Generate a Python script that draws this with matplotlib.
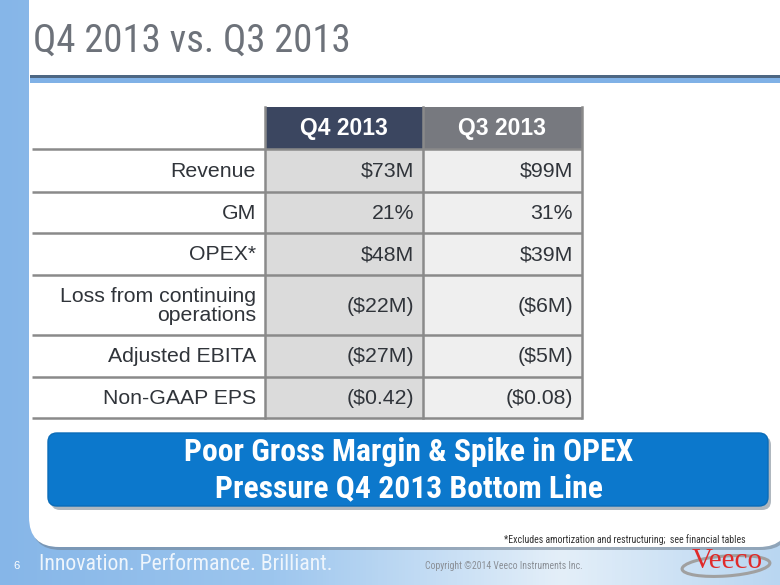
import matplotlib
matplotlib.use("Agg")
import matplotlib.pyplot as plt
import numpy as np
from matplotlib.colors import LinearSegmentedColormap
from matplotlib.patches import FancyBboxPatch, Rectangle, Ellipse

# table data
col_heads = ["Q4 2013", "Q3 2013"]
row_labels = ["Revenue", "GM", "OPEX*", "Loss from continuing\noperations",
              "Adjusted EBITA", "Non-GAAP EPS"]
q4_vals = ["$73M", "21%", "$48M", "($22M)", "($27M)", "($0.42)"]
q3_vals = ["$99M", "31%", "$39M", "($6M)", "($5M)", "($0.08)"]

title = "Q4 2013 vs. Q3 2013"
banner = "Poor Gross Margin & Spike in OPEX\nPressure Q4 2013 Bottom Line"
footnote = "*Excludes amortization and restructuring;  see financial tables"
tagline = "Innovation. Performance. Brilliant."
copyright_txt = "Copyright \u00a92014 Veeco Instruments Inc."

NARROW = "Roboto Condensed"
SANS = "Liberation Sans"

fig = plt.figure(figsize=(7.8, 5.85), dpi=100)
ax = fig.add_axes([0, 0, 1, 1])
ax.set_xlim(0, 780)
ax.set_ylim(585, 0)
ax.axis("off")
renderer = fig.canvas.get_renderer()


def fit(t, width):
    # scale a text so its drawn width matches the width seen on the slide
    w = t.get_window_extent(renderer).width
    t.set_fontsize(t.get_fontsize() * width / w)
    return t


# blue background
grad = np.linspace(0, 1, 256).reshape(1, -1)
bg = LinearSegmentedColormap.from_list(
    "bg", [(0, "#86b6e8"), (0.35, "#9dc6ee"), (0.72, "#e4eff9"), (1, "#b9d6f1")])
ax.imshow(grad, cmap=bg, extent=[0, 780, 585, 0], aspect="auto", zorder=0)

# white slide panel with a soft shadow
ax.add_patch(FancyBboxPatch((31, -40), 760, 590, boxstyle="round,pad=0,rounding_size=30",
                            fc="#6d7c8c", ec="none", alpha=0.55, zorder=1))
ax.add_patch(FancyBboxPatch((29, -40), 760, 587, boxstyle="round,pad=0,rounding_size=30",
                            fc="white", ec="none", zorder=2))

# band under the title
ax.add_patch(Rectangle((30, 75), 750, 2.5, fc="#4d6783", ec="none", zorder=3))
ax.add_patch(Rectangle((30, 77.5), 750, 5.5, fc="#80b1e6", ec="none", zorder=3))

fit(ax.text(33, 41, title, fontsize=30, color="#6d727a", family=NARROW,
            va="center", ha="left", zorder=4), 317)

# table
x_lab, x_q4, x_q3, x_end = 32, 265, 423, 582
head_top = 107
row_edges = [149, 192, 233, 275, 335, 377, 418]
head_colors = ["#3b4660", "#77797f"]
cell_colors = ["#dbdbdb", "#efefef"]
col_x = [x_q4, x_q3, x_end]
txt_col = "#30343a"

for j, h in enumerate(col_heads):
    ax.add_patch(Rectangle((col_x[j], head_top), col_x[j + 1] - col_x[j],
                           row_edges[0] - head_top, fc=head_colors[j], ec="none", zorder=4))
    ax.text((col_x[j] + col_x[j + 1]) / 2, (head_top + row_edges[0]) / 2 + 1, h,
            fontsize=16.5, fontweight="bold", color="white", family=SANS,
            ha="center", va="center", zorder=5)

for i, lab in enumerate(row_labels):
    y0, y1 = row_edges[i], row_edges[i + 1]
    ym = (y0 + y1) / 2 + 1
    for j in range(2):
        ax.add_patch(Rectangle((col_x[j], y0), col_x[j + 1] - col_x[j], y1 - y0,
                               fc=cell_colors[j], ec="none", zorder=4))
    ax.text(256, ym, lab, fontsize=15.3, color=txt_col, family=SANS,
            ha="right", va="center", linespacing=1.05, zorder=5)
    ax.text(414, ym, q4_vals[i], fontsize=15.3, color=txt_col, family=SANS,
            ha="right", va="center", zorder=5)
    ax.text(573, ym, q3_vals[i], fontsize=15.3, color=txt_col, family=SANS,
            ha="right", va="center", zorder=5)

for y in row_edges:
    ax.plot([x_lab, x_end], [y, y], color="#8a8a8a", lw=1.8, zorder=6, solid_capstyle="butt")
for x in col_x:
    ax.plot([x, x], [head_top, row_edges[-1]], color="#8a8a8a", lw=1.8, zorder=6)

# banner
ax.add_patch(FancyBboxPatch((51, 436), 720, 74, boxstyle="round,pad=0,rounding_size=9",
                            fc="#8e99a5", ec="none", alpha=0.7, zorder=3))
ax.add_patch(FancyBboxPatch((48, 433), 720, 73, boxstyle="round,pad=0,rounding_size=9",
                            fc="#0c78cc", ec="#0a6cb8", lw=1, zorder=4))
fit(ax.text(409, 470, banner, fontsize=22, fontweight="bold", color="white", family=NARROW,
            ha="center", va="center", linespacing=1.25, zorder=5), 448)

# footnote and footer
fit(ax.text(746, 540, footnote, fontsize=8, color="#333333", family=NARROW,
            ha="right", va="center", zorder=5), 241)
ax.text(16, 566, "6", fontsize=8, color="white", family=SANS,
        ha="center", va="center", zorder=5)
fit(ax.text(39, 565, tagline, fontsize=17, color="#eef5fc", family=NARROW,
            ha="left", va="center", zorder=5), 294)
fit(ax.text(425, 566, copyright_txt, fontsize=7, color="#8a8f96", family=NARROW,
            ha="left", va="center", zorder=5), 158)

# Veeco logo
ax.add_patch(Ellipse((726, 566), 88, 20, angle=-4, fc="none", ec="#a0a0a0", lw=2.2, zorder=5))
ax.text(727, 561, "Veeco", fontsize=21, color="#e02a2a", family="Liberation Serif",
        ha="center", va="center", zorder=6)

fig.savefig("out.png", dpi=100)
